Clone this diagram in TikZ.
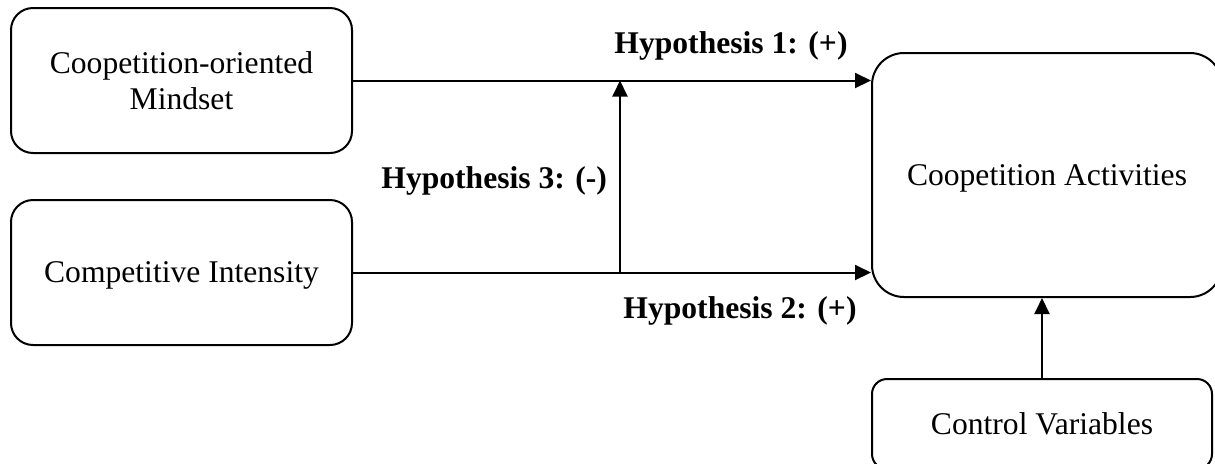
\documentclass[tikz,border=0pt]{standalone}
\usepackage{fontspec}
\setmainfont{Liberation Serif}
\usepackage{tikz}
\usetikzlibrary{arrows.meta,positioning}

\begin{document}
\begin{tikzpicture}[x=0.5pt,y=-0.5pt,>={Triangle[length=8pt,width=7.5pt]},line width=1pt,
  box/.style={draw,rounded corners=11pt,align=center,font=\fontsize{15.8}{18}\selectfont,
    minimum width=170.5pt,minimum height=72.5pt,inner sep=0pt,text depth=0pt},
  hyp/.style={font=\fontsize{15.8}{18}\selectfont\bfseries,inner sep=0pt}]
  \clip (0,0) rectangle (1215,463);
  \node[box] (mind) at (181.5,80.5) {Coopetition-oriented\\Mindset};
  \node[box,below=22.5pt of mind] (ci) {Competitive Intensity};
  \node[box,rounded corners=16pt,minimum width=175pt,minimum height=122pt] (act) at (1047,175) {Coopetition Activities};
  \node[box,rounded corners=7.5pt,minimum width=170pt,minimum height=45pt,below=40pt of act,xshift=-2.5pt] (ctrl) {Control Variables};
  \coordinate (j) at (620,0);
  \draw[->] (mind.east) -- (act.west |- mind.east);
  \draw[->] (ci.east) -- (act.west |- ci.east);
  \draw[->] (j |- ci.east) -- (j |- mind.east);
  \draw[->] (ctrl.north) -- (ctrl.north |- act.south);
  \node[hyp] (h1) at (731,46) {Hypothesis 1: (+)};
  \node[hyp] (h2) at (740,311) {Hypothesis 2: (+)};
  \node[hyp,anchor=east] (h3) at (608,181) {Hypothesis 3: (-)};
\end{tikzpicture}
\end{document}
